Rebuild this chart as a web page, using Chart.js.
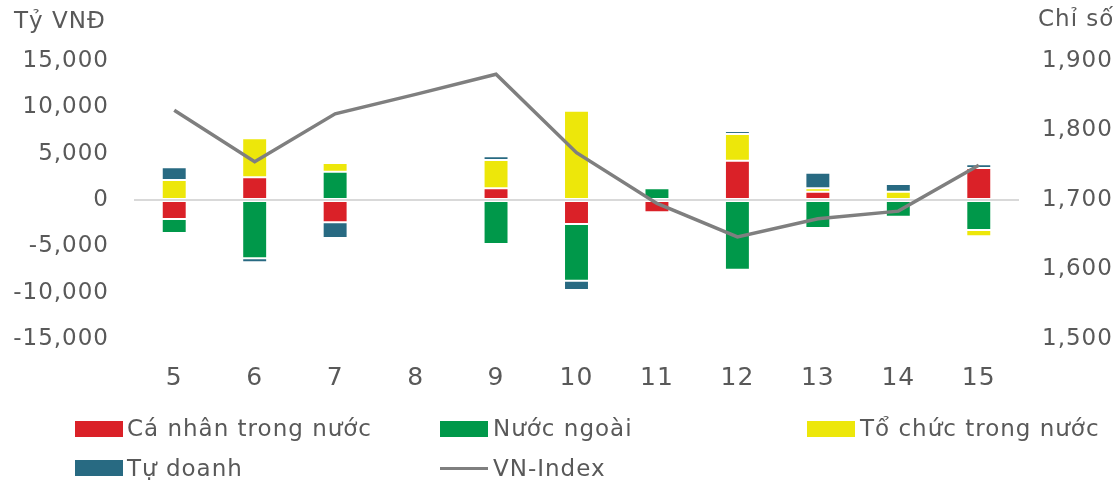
<!DOCTYPE html>
<html>
<head>
<meta charset="utf-8">
<script src="https://cdn.jsdelivr.net/npm/chart.js@4/dist/chart.umd.min.js"></script>
<style>
  body { margin: 0; background: #fff; }
  #wrap { position: relative; width: 1117px; height: 483px; font-family: "DejaVu Sans", sans-serif; color: #595959; }
  canvas { position: absolute; left: 0; top: 0; }
  .t { position: absolute; font-size: 23px; line-height: 24px; letter-spacing: 1px; white-space: nowrap; }
  .box { position: absolute; width: 48px; height: 16px; }
  .ln { position: absolute; width: 48px; height: 3px; background: #7f7f7f; }
</style>
</head>
<body>
<div id="wrap">
  <canvas id="chart" width="1117" height="483"></canvas>
  <div class="t" style="left:14px;top:8px">Tỷ VNĐ</div>
  <div class="t" style="left:1038px;top:6px">Chỉ số</div>

  <div class="box" style="left:75px;top:421px;background:#da2128"></div>
  <div class="t" style="left:127px;top:416px">Cá nhân trong nước</div>
  <div class="box" style="left:440px;top:421px;background:#00984a"></div>
  <div class="t" style="left:493px;top:416px">Nước ngoài</div>
  <div class="box" style="left:807px;top:421px;background:#ede70a"></div>
  <div class="t" style="left:860px;top:416px">Tổ chức trong nước</div>
  <div class="box" style="left:75px;top:460px;background:#286a82"></div>
  <div class="t" style="left:127px;top:456px">Tự doanh</div>
  <div class="ln" style="left:440px;top:467px"></div>
  <div class="t" style="left:493px;top:456px">VN-Index</div>
</div>
<script>
const labels = ['5', '6', '7', '8', '9', '10', '11', '12', '13', '14', '15'];

// Tỷ VNĐ
const caNhan = [-2050, 2450, -2410, null, 1260, -2590, -1330, 4240, 900, null, 3450];
const nuocNgoai = [-1510, -6290, 3050, null, -4750, -6120, 1260, -7520, -3020, -1800, -3240];
const toChuc = [2160, 4210, 940, null, 3050, 9640, null, 2880, 370, 900, -680];
const tuDoanh = [1370, -430, -1690, null, 400, -1000, null, 320, 1680, 830, 400];

// Chỉ số
const vnIndex = [1829, 1755, 1824, 1852, 1881, 1768, 1695, 1647, 1673, 1684, 1750];

const leftTicks = [-15000, 15000, 5000];
const rightTicks = [1500, 1900, 100];

const textColor = '#595959';
const font = {family: 'DejaVu Sans', size: 23};

// canvas text a bit wider, like the original font
const spacing = {
    id: 'spacing',
    beforeDraw(chart) { chart.ctx.letterSpacing = '1px' }
};

function bar(label, values, color) {
    return {
        type: 'bar',
        label: label,
        data: values,
        backgroundColor: color,
        borderColor: 'rgba(255,255,255,0.7)',
        borderWidth: 1,
        borderSkipped: false,
        yAxisID: 'y',
        order: 1,
        categoryPercentage: 1,
        barPercentage: 0.31
    }
}

const data = {
    labels: labels,
    datasets: [
        {
            type: 'line',
            label: 'VN-Index',
            data: vnIndex,
            borderColor: '#7f7f7f',
            borderWidth: 3.5,
            pointRadius: 0,
            tension: 0,
            yAxisID: 'y1',
            order: 0
        },
        bar('Cá nhân trong nước', caNhan, '#da2128'),
        bar('Nước ngoài', nuocNgoai, '#00984a'),
        bar('Tổ chức trong nước', toChuc, '#ede70a'),
        bar('Tự doanh', tuDoanh, '#286a82')
    ]
};

const config = {
    data,
    plugins: [spacing],
    options: {
        responsive: false,
        animation: false,
        layout: {padding: {top: 61, bottom: 0, left: 0, right: 0}},
        plugins: {legend: {display: false}, tooltip: {enabled: false}},
        scales: {
            x: {
                stacked: true,
                grid: {display: false},
                border: {display: false},
                ticks: {color: textColor, font: {family: 'DejaVu Sans', size: 25}, padding: 16, maxRotation: 0},
                afterFit: (s) => { s.height = 144 }
            },
            y: {
                stacked: true,
                position: 'left',
                min: leftTicks[0],
                max: leftTicks[1],
                border: {display: false},
                grid: {
                    drawTicks: false,
                    lineWidth: 2,
                    color: (c) => c.tick && c.tick.value === 0 ? '#d9d9d9' : 'rgba(0,0,0,0)'
                },
                ticks: {
                    stepSize: leftTicks[2],
                    color: textColor,
                    font: font,
                    padding: 25,
                    callback: (v) => v.toLocaleString('en-US')
                },
                afterFit: (s) => { s.width = 134 }
            },
            y1: {
                position: 'right',
                stacked: false,
                min: rightTicks[0],
                max: rightTicks[1],
                border: {display: false},
                grid: {display: false, drawTicks: false},
                ticks: {
                    stepSize: rightTicks[2],
                    color: textColor,
                    font: font,
                    padding: 23,
                    callback: (v) => v.toLocaleString('en-US')
                },
                afterFit: (s) => { s.width = 98 }
            }
        }
    }
};

new Chart(document.getElementById('chart'), config);
</script>
</body>
</html>
